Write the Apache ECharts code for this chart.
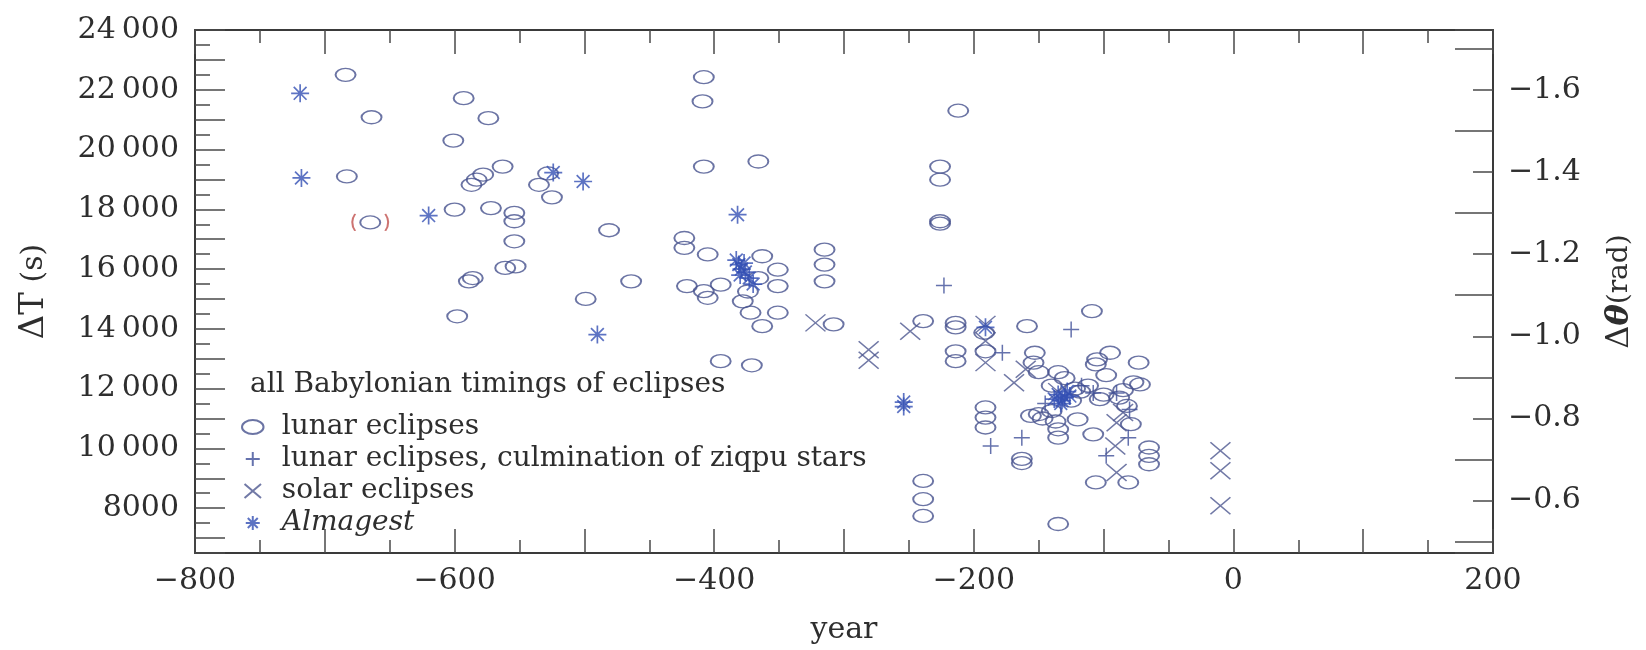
<!DOCTYPE html>
<html>
<head>
<meta charset="utf-8">
<title>Babylonian eclipse timings — ΔT</title>
<script src="https://cdn.jsdelivr.net/npm/echarts@6.0.0/dist/echarts.min.js"></script>
<style>
  html, body { margin: 0; padding: 0; background: #fff; }
  #chart { width: 1646px; height: 650px; }
</style>
</head>
<body>
<div id="chart"></div>
<script>
// ---- data: [year, ΔT in seconds] ----
const lunarEclipses = [
  [-684, 22500], [-664, 21080], [-683, 19100], [-601, 20300], [-593, 21720],
  [-574, 21050], [-563, 19430], [-578, 19160], [-583, 18990], [-587, 18820],
  [-535, 18820], [-528, 19200], [-525, 18400], [-600, 17990], [-572, 18040],
  [-554, 17880], [-554, 17600], [-554, 16930], [-561, 16040], [-553, 16090],
  [-589, 15590], [-586, 15700], [-598, 14420], [-499, 15000], [-481, 17300],
  [-464, 15590],
  [-408, 22420], [-409, 21610], [-408, 19430], [-366, 19600], [-423, 17040],
  [-423, 16710], [-405, 16490], [-421, 15430], [-408, 15260], [-405, 15040],
  [-395, 15480], [-378, 14920], [-372, 14540], [-363, 14090], [-351, 14540],
  [-363, 16430], [-351, 15980], [-351, 15430], [-366, 15700], [-374, 15250],
  [-395, 12920], [-371, 12780], [-315, 16650], [-315, 16150], [-315, 15590],
  [-308, 14150],
  [-226, 19430], [-226, 18990], [-226, 17600], [-226, 17520], [-212, 21300],
  [-239, 14260], [-214, 14200], [-214, 14050], [-214, 13250], [-214, 12920],
  [-192, 13870], [-191, 13250], [-191, 11370], [-191, 11030], [-191, 10700],
  [-239, 8910], [-239, 8300], [-239, 7740], [-159, 14090], [-109, 14590],
  [-153, 13200], [-154, 12870], [-95, 13200], [-105, 12980], [-106, 12810],
  [-73, 12870], [-77, 12210], [-72, 12140], [-82, 11420], [-79, 10810],
  [-106, 8860], [-81, 8860], [-65, 10030], [-65, 9750], [-65, 9470],
  [-135, 7470], [-120, 10970], [-135, 10640], [-135, 10360], [-108, 10470],
  [-163, 9650], [-163, 9510], [-156, 11090], [-147, 11000], [-140, 11250],
  [-125, 11600], [-118, 11900], [-112, 12100], [-100, 11800], [-103, 11650],
  [-140, 12100], [-130, 12350], [-135, 12550], [-122, 12000], [-150, 11150],
  [-137, 10900], [-88, 11700], [-85, 11950], [-98, 12450], [-150, 12550]
];
// doubtful record, shown in brackets
const bracketedLunar = [[-665, 17560]];

const ziqpuCulminations = [
  [-223, 15450], [-125, 13980], [-178, 13200], [-187, 10080], [-163, 10360],
  [-98, 9750], [-81, 10360], [-117, 12100], [-90, 11850], [-108, 11850],
  [-145, 11500], [-80, 11300]
];

const solarEclipses = [
  [-322, 14200], [-281, 13300], [-281, 12950], [-249, 13920], [-191, 14150],
  [-191, 13590], [-191, 12870], [-169, 12200], [-160, 12650], [-90, 10860],
  [-91, 10080], [-90, 9190], [-10, 9920], [-10, 9250], [-10, 8080],
  [-135, 11900], [-85, 11200]
];

const almagest = [
  [-719, 21880], [-718, 19050], [-620, 17790], [-524, 19230], [-501, 18930],
  [-490, 13810], [-382, 17820], [-383, 16300], [-381, 16150], [-379, 16000],
  [-376, 15900], [-373, 15700], [-370, 15500], [-380, 15800], [-377, 16200],
  [-254, 11550], [-254, 11400], [-191, 14050], [-135, 11800], [-132, 11600],
  [-130, 11700], [-128, 11900], [-133, 11500], [-126, 11750], [-138, 11650]
];

// ---- tick labels ----
const yearTicks = [-800, -600, -400, -200, 0, 200];
const deltaTTicks = [8000, 10000, 12000, 14000, 16000, 18000, 20000, 22000, 24000];
const thetaTicks = [-1.6, -1.4, -1.2, -1.0, -0.8, -0.6];

// ---- axis ranges ----
const yearMin = -800, yearMax = 200;
const dtMin = 6500, dtMax = 24000;
const RAD_PER_SEC = 2 * Math.PI / 86400;   // Earth rotation angle per second of ΔT
const thMin = -dtMax * RAD_PER_SEC;        // top of plot
const thMax = -dtMin * RAD_PER_SEC;        // bottom of plot

const FONT = 'DejaVu Serif';
const INK = '#2e2e2e';
const FRAME = '#3a3a3a';
const TICK = '#4a4a4a';

// marker outlines
const ELLIPSE = 'path://M0,6.5 A10,6.5 0 1,1 20,6.5 A10,6.5 0 1,1 0,6.5 Z';
const PLUS = 'path://M8,0 L8,16 M0,8 L16,8';
const CROSS = 'path://M0,0 L20,17 M20,0 L0,17';
const STAR = 'path://M9,0 L9,18 M0,9 L18,9 M2.6,2.6 L15.4,15.4 M15.4,2.6 L2.6,15.4';
const BRACKETS = 'path://M5,0 Q0,8.5 5,17 M31,0 Q36,8.5 31,17';

const minus = s => s.replace('-', '\u2212');
function fmtDeltaT(v) {
  const s = String(Math.round(v));
  return s.length > 4 ? s.slice(0, -3) + '\u2009' + s.slice(-3) : s;
}
const near = (a, b) => Math.abs(a - b) < 1e-6;

const tickLine = { color: TICK, width: 1.5 };
const frameLine = { show: true, onZero: false, lineStyle: { color: FRAME, width: 2 } };
const noLine = { show: false, onZero: false };

const option = {
  animation: false,
  backgroundColor: '#ffffff',
  title: {
    text: 'all Babylonian timings of eclipses',
    left: 250, top: 371, padding: 0,
    textStyle: { fontFamily: FONT, fontSize: 28, fontWeight: 'normal', color: INK, lineHeight: 28 }
  },
  legend: {
    orient: 'vertical',
    left: 236, top: 408,
    itemWidth: 48, itemHeight: 14, itemGap: 4,
    symbolKeepAspect: true,
    selectedMode: false,
    data: ['lunar eclipses', 'lunar eclipses, culmination of ziqpu stars', 'solar eclipses', 'Almagest'],
    formatter: n => n === 'Almagest' ? '{it|Almagest}' : n,
    textStyle: {
      fontFamily: FONT, fontSize: 28, color: INK, lineHeight: 28,
      rich: { it: { fontFamily: FONT, fontSize: 28, fontStyle: 'italic', color: INK, lineHeight: 28 } }
    }
  },
  grid: { left: 195, right: 153, top: 30, bottom: 96, containLabel: false },
  xAxis: [
    {
      type: 'value', position: 'bottom', min: yearMin, max: yearMax, interval: 100,
      axisLine: frameLine,
      axisTick: { show: true, inside: true, length: 24, lineStyle: tickLine },
      minorTick: { show: true, splitNumber: 2, length: 13, lineStyle: tickLine },
      splitLine: { show: false },
      axisLabel: {
        margin: 13, fontFamily: FONT, fontSize: 30, color: INK,
        formatter: v => yearTicks.some(t => near(t, v)) ? minus(String(Math.round(v))) : ''
      },
      name: 'year', nameLocation: 'middle', nameGap: 62,
      nameTextStyle: { fontFamily: FONT, fontSize: 30, color: INK }
    },
    {
      type: 'value', position: 'top', min: yearMin, max: yearMax, interval: 100,
      axisLine: frameLine,
      axisTick: { show: true, inside: true, length: 24, lineStyle: tickLine },
      minorTick: { show: true, splitNumber: 2, length: 13, lineStyle: tickLine },
      splitLine: { show: false },
      axisLabel: { show: false }
    }
  ],
  yAxis: [
    // ΔT axis: labels and half-step ticks
    {
      type: 'value', position: 'left', min: dtMin, max: dtMax, interval: 500,
      axisLine: frameLine,
      axisTick: { show: true, inside: true, length: 15, lineStyle: tickLine },
      splitLine: { show: false },
      axisLabel: {
        margin: 16, fontFamily: FONT, fontSize: 30, color: INK,
        formatter: v => deltaTTicks.some(t => near(t, v)) ? fmtDeltaT(v) : ''
      },
      name: '{a|ΔT}{b| (s)}', nameLocation: 'middle', nameRotate: 90, nameGap: 144,
      nameTextStyle: {
        fontFamily: FONT, color: INK,
        rich: {
          a: { fontFamily: FONT, fontSize: 34, color: INK },
          b: { fontFamily: FONT, fontSize: 30, color: INK }
        }
      }
    },
    // ΔT axis: whole-thousand ticks (counted down from the top)
    {
      type: 'value', position: 'left', inverse: true, min: -dtMax, max: -dtMin, interval: 1000,
      axisLine: noLine,
      axisTick: { show: true, inside: true, length: 30, lineStyle: tickLine },
      splitLine: { show: false },
      axisLabel: { show: false }
    },
    // Δθ axis: labels and ticks every 0.2 rad
    {
      type: 'value', position: 'right', inverse: true, min: thMin, max: thMax,
      splitNumber: 6, minInterval: 0.2, maxInterval: 0.2,
      axisLine: frameLine,
      axisTick: { show: true, inside: true, length: 20, lineStyle: tickLine },
      splitLine: { show: false },
      axisLabel: {
        margin: 15, fontFamily: FONT, fontSize: 30, color: INK,
        showMinLabel: false, showMaxLabel: false,
        formatter: v => thetaTicks.some(t => Math.abs(t - v) < 1e-4) ? '\u2212' + Math.abs(v).toFixed(1) : ''
      },
      name: '{a|Δ}{b|θ}{c|(rad)}', nameLocation: 'middle', nameRotate: 90, nameGap: 111,
      nameTextStyle: {
        fontFamily: FONT, color: INK,
        rich: {
          a: { fontFamily: FONT, fontSize: 32, color: INK },
          b: { fontFamily: FONT, fontSize: 32, fontStyle: 'italic', fontWeight: 'bold', color: INK },
          c: { fontFamily: FONT, fontSize: 28, color: INK }
        }
      }
    },
    // Δθ axis: odd-tenth ticks (scale shifted by 0.1 rad)
    {
      type: 'value', position: 'right', inverse: true, min: thMin + 0.1, max: thMax + 0.1,
      splitNumber: 6, minInterval: 0.2, maxInterval: 0.2,
      axisLine: noLine,
      axisTick: { show: true, inside: true, length: 38, lineStyle: tickLine },
      splitLine: { show: false },
      axisLabel: { show: false }
    }
  ],
  series: [
    {
      type: 'scatter', name: 'lunar eclipses',
      data: lunarEclipses.concat(bracketedLunar),
      symbol: ELLIPSE, symbolSize: [20, 13],
      itemStyle: { color: 'rgba(0,0,0,0)', borderColor: '#46518d', borderWidth: 1.6 },
      emphasis: { disabled: true }, z: 2
    },
    {
      type: 'scatter', name: 'bracketed',
      data: bracketedLunar,
      symbol: BRACKETS, symbolSize: [36, 17],
      itemStyle: { color: 'rgba(0,0,0,0)', borderColor: '#c0504d', borderWidth: 1.4 },
      emphasis: { disabled: true }, z: 2
    },
    {
      type: 'scatter', name: 'lunar eclipses, culmination of ziqpu stars',
      data: ziqpuCulminations,
      symbol: PLUS, symbolSize: [16, 16],
      itemStyle: { color: 'rgba(0,0,0,0)', borderColor: '#3f4f98', borderWidth: 1.5 },
      emphasis: { disabled: true }, z: 3
    },
    {
      type: 'scatter', name: 'solar eclipses',
      data: solarEclipses,
      symbol: CROSS, symbolSize: [20, 17],
      itemStyle: { color: 'rgba(0,0,0,0)', borderColor: '#4d5790', borderWidth: 1.5 },
      emphasis: { disabled: true }, z: 3
    },
    {
      type: 'scatter', name: 'Almagest',
      data: almagest,
      symbol: STAR, symbolSize: [18, 18],
      itemStyle: { color: 'rgba(0,0,0,0)', borderColor: '#3450b4', borderWidth: 1.7 },
      emphasis: { disabled: true }, z: 4
    }
  ]
};

const chart = echarts.init(document.getElementById('chart'), null, { renderer: 'canvas' });
chart.setOption(option);
</script>
</body>
</html>
